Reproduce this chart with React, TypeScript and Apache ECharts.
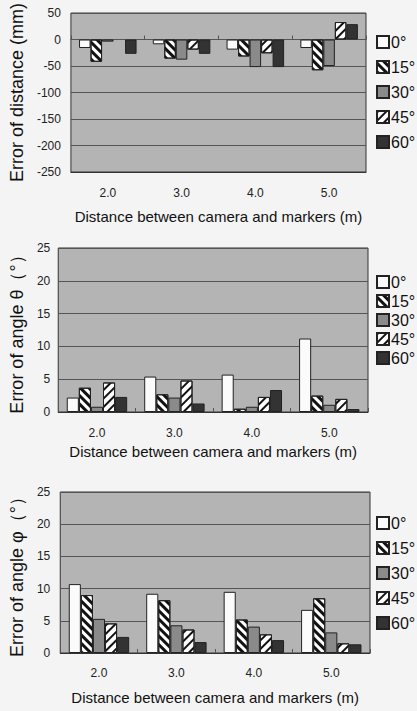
import React, { useEffect, useRef } from 'react';
import * as echarts from 'echarts';

const categories = ['2.0', '3.0', '4.0', '5.0'];
const angleNames = ['0°', '15°', '30°', '45°', '60°'];

// Error of distance (mm)
const dist0 = [-16, -9, -19, -16];
const dist15 = [-42, -36, -32, -58];
const dist30 = [-4, -38, -52, -50];
const dist45 = [null, -19, -26, 33];
const dist60 = [-27, -27, -52, 29];

// Error of angle theta (deg)
const theta0 = [2.2, 5.4, 5.7, 11.2];
const theta15 = [3.7, 2.7, 0.5, 2.5];
const theta30 = [0.8, 2.2, 0.8, 1.1];
const theta45 = [4.5, 4.8, 2.3, 2.0];
const theta60 = [2.3, 1.3, 3.35, 0.45];

// Error of angle phi (deg)
const phi0 = [10.7, 9.2, 9.5, 6.7];
const phi15 = [9.0, 8.2, 5.2, 8.5];
const phi30 = [5.3, 4.3, 4.1, 3.2];
const phi45 = [4.6, 3.65, 2.9, 1.5];
const phi60 = [2.5, 1.7, 2.0, 1.35];

const yTitles = ['Error of distance (mm)', 'Error of angle θ（°）', 'Error of angle φ（°）'];
const xTitle = 'Distance between camera and markers (m)';

const FONT = '"Liberation Sans", Arial, sans-serif';

const styles: any[] = [
  { color: '#fbfbfb' },
  {
    color: '#ffffff',
    decal: { symbol: 'rect', symbolSize: 1, dashArrayX: [1, 0], dashArrayY: [3, 3], rotation: Math.PI / 4, color: '#111' },
  },
  { color: '#8a8a8a' },
  {
    color: '#ffffff',
    decal: { symbol: 'rect', symbolSize: 1, dashArrayX: [1, 0], dashArrayY: [2, 4], rotation: -Math.PI / 4, color: '#111' },
  },
  { color: '#333333' },
];

export default function App() {
  const ref = useRef<HTMLDivElement>(null);
  useEffect(() => {
    if (!ref.current) return;
    const chart = echarts.init(ref.current, null, { renderer: 'svg' });

    const grids = [
      { left: 62, top: 11, width: 304, height: 161 },
      { left: 53, top: 248, width: 315, height: 164 },
      { left: 55, top: 492, width: 315, height: 161 },
    ];
    const yRanges = [
      { min: -250, max: 50, interval: 50 },
      { min: 0, max: 25, interval: 5 },
      { min: 0, max: 25, interval: 5 },
    ];
    const yNameGaps = [34, 21, 21];
    const yLabelMargins = [10, 8, 10];
    const xLabelMargins = [15, 15, 14];
    const xNameGaps = [37, 32, 37];
    const legendTops = [34, 274, 515];
    const legendGaps = [9, 3, 9];
    const dataSets = [
      [dist0, dist15, dist30, dist45, dist60],
      [theta0, theta15, theta30, theta45, theta60],
      [phi0, phi15, phi30, phi45, phi60],
    ];

    const xAxes: any[] = [];
    const yAxes: any[] = [];
    const series: any[] = [];
    const legends: any[] = [];

    grids.forEach((g, i) => {
      xAxes.push({
        type: 'category',
        gridIndex: i,
        data: categories,
        position: 'bottom',
        axisLine: { show: true, onZero: false, lineStyle: { color: '#333', width: 1 } },
        axisTick: { show: i > 0, inside: true, length: 4, lineStyle: { color: '#555' } },
        axisLabel: { fontFamily: FONT, fontSize: 12, color: '#222', margin: xLabelMargins[i] },
        name: xTitle,
        nameLocation: 'middle',
        nameGap: xNameGaps[i],
        nameTextStyle: { fontFamily: FONT, fontSize: 15, color: '#111' },
      });
      yAxes.push({
        type: 'value',
        gridIndex: i,
        ...yRanges[i],
        axisLine: { show: false },
        axisTick: { show: false },
        axisLabel: { fontFamily: FONT, fontSize: 12, color: '#222', margin: yLabelMargins[i] },
        splitLine: { show: true, lineStyle: { color: '#555', width: 1 } },
        name: yTitles[i],
        nameLocation: 'middle',
        nameRotate: 90,
        nameGap: yNameGaps[i],
        nameTextStyle: { fontFamily: FONT, fontSize: 18, color: '#111' },
      });
      const xIdx = xAxes.length - 1;
      dataSets[i].forEach((vals, k) => {
        series.push({
          type: 'bar',
          name: angleNames[k],
          xAxisIndex: xIdx,
          yAxisIndex: i,
          data: vals,
          barGap: '0%',
          barCategoryGap: '22%',
          itemStyle: { ...styles[k], borderColor: '#222', borderWidth: 1 },
        });
      });
      legends.push({
        orient: 'vertical',
        left: 376,
        top: legendTops[i],
        padding: 0,
        itemWidth: 12,
        itemHeight: 12,
        itemGap: legendGaps[i],
        icon: 'rect',
        data: angleNames,
        selectedMode: false,
        textStyle: { fontFamily: FONT, fontSize: 16, color: '#111', padding: [0, 0, 0, -3] },
      });
    });

    // extra tick axis at zero for the distance chart
    xAxes.push({
      type: 'category',
      gridIndex: 0,
      data: categories,
      position: 'bottom',
      axisLine: { show: true, onZero: true, lineStyle: { color: '#555', width: 1 } },
      axisTick: { show: true, inside: true, length: 4, lineStyle: { color: '#555' } },
      axisLabel: { show: false },
    });

    chart.setOption({
      animation: false,
      backgroundColor: '#f4f4f4',
      grid: grids.map((g) => ({ ...g, show: true, backgroundColor: '#b4b4b4', borderColor: '#333', borderWidth: 1 })),
      xAxis: xAxes,
      yAxis: yAxes,
      legend: legends,
      series,
    });
    return () => chart.dispose();
  }, []);
  return <div ref={ref} style={{ position: 'fixed', left: 0, top: 0, width: 417, height: 711 }} />;
}
